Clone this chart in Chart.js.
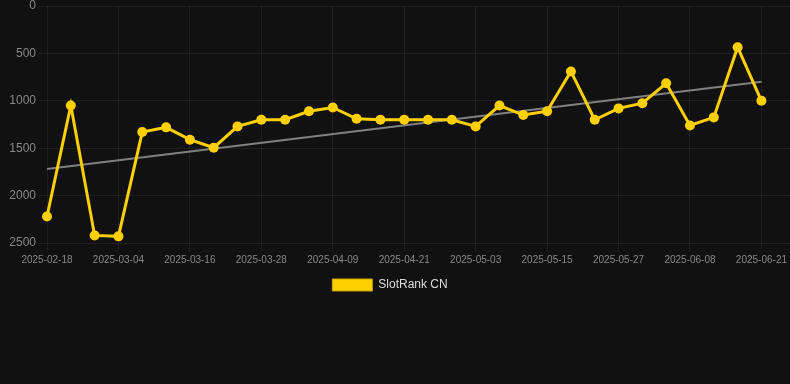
<!DOCTYPE html>
<html>
<head>
<meta charset="utf-8">
<script src="https://cdn.jsdelivr.net/npm/chart.js@4"></script>
<style>
  html, body { margin: 0; padding: 0; background: #111111; }
  #wrap { width: 790px; height: 301px; position: relative; }
</style>
</head>
<body>
<div id="wrap"><canvas id="c"></canvas></div>
<script>
const dates = [
  '2025-02-18','2025-02-22','2025-02-27','2025-03-04','2025-03-08','2025-03-12',
  '2025-03-16','2025-03-20','2025-03-24','2025-03-28','2025-04-01','2025-04-05',
  '2025-04-09','2025-04-13','2025-04-17','2025-04-21','2025-04-25','2025-04-29',
  '2025-05-03','2025-05-07','2025-05-11','2025-05-15','2025-05-19','2025-05-23',
  '2025-05-27','2025-05-31','2025-06-04','2025-06-08','2025-06-12','2025-06-16',
  '2025-06-21'
];
const ranks = [
  2220, 1050, 2420, 2430, 1330, 1280, 1410, 1495, 1270, 1200, 1200,
  1110, 1070, 1190, 1200, 1200, 1200, 1200, 1270, 1050, 1150, 1110,
  690, 1200, 1080, 1025, 815, 1260, 1175, 435, 1000
];
const trendStart = 1720;
const trendEnd = 800;
const yTicks = [0, 500, 1000, 1500, 2000, 2500];
const seriesName = 'SlotRank CN';

const rankPoints = ranks.map((v, i) => ({ x: i, y: v }));
const trendPoints = [{ x: 0, y: trendStart }, { x: dates.length - 1, y: trendEnd }];

const legendShift = {
  id: 'legendShift',
  afterLayout(chart) {
    if (chart.legend) { chart.legend.left -= 5; chart.legend.right -= 5; }
  }
};

new Chart(document.getElementById('c'), {
  type: 'line',
  plugins: [legendShift],
  data: {
    datasets: [
      {
        label: seriesName,
        data: rankPoints,
        borderColor: '#FFD000',
        backgroundColor: '#FFD000',
        borderWidth: 3,
        pointRadius: 5,
        pointBorderWidth: 0,
        pointBackgroundColor: '#FFD000',
        tension: 0,
        clip: false,
        order: 1
      },
      {
        label: 'trend',
        data: trendPoints,
        borderColor: '#808080',
        borderWidth: 2,
        pointRadius: 0,
        tension: 0,
        clip: false,
        order: 2
      }
    ]
  },
  options: {
    responsive: true,
    maintainAspectRatio: false,
    animation: false,
    layout: { autoPadding: false, padding: 0 },
    plugins: {
      legend: {
        position: 'bottom',
        labels: {
          color: '#dddddd',
          boxWidth: 40,
          boxHeight: 12,
          font: { size: 12 },
          generateLabels: chart =>
            Chart.defaults.plugins.legend.labels.generateLabels(chart)
              .filter(item => item.text === seriesName)
              .map(item => Object.assign(item, { lineWidth: 1, strokeStyle: '#C9A400' }))
        }
      },
      tooltip: { enabled: false }
    },
    scales: {
      x: {
        type: 'linear',
        min: 0,
        max: 31.2,
        grid: { color: 'rgba(255,255,255,0.06)', tickLength: 8 },
        border: { display: false },
        afterFit: s => { s.paddingLeft = 0; s.paddingRight = 0; },
        ticks: {
          stepSize: 3,
          includeBounds: false,
          autoSkip: false,
          maxRotation: 0,
          color: '#888888',
          font: { size: 10 },
          callback: v => dates[v] || ''
        }
      },
      y: {
        reverse: true,
        min: yTicks[0],
        max: yTicks[yTicks.length - 1],
        grid: { color: 'rgba(255,255,255,0.06)', tickLength: 8 },
        border: { display: false },
        afterBuildTicks: s => { s.ticks = yTicks.map(v => ({ value: v })); },
        afterFit: s => { s.width = 47; s.paddingTop = 6; s.paddingBottom = 0; },
        ticks: {
          color: '#888888',
          font: { size: 12 },
          callback: v => String(v)
        }
      }
    }
  }
});
</script>
</body>
</html>
